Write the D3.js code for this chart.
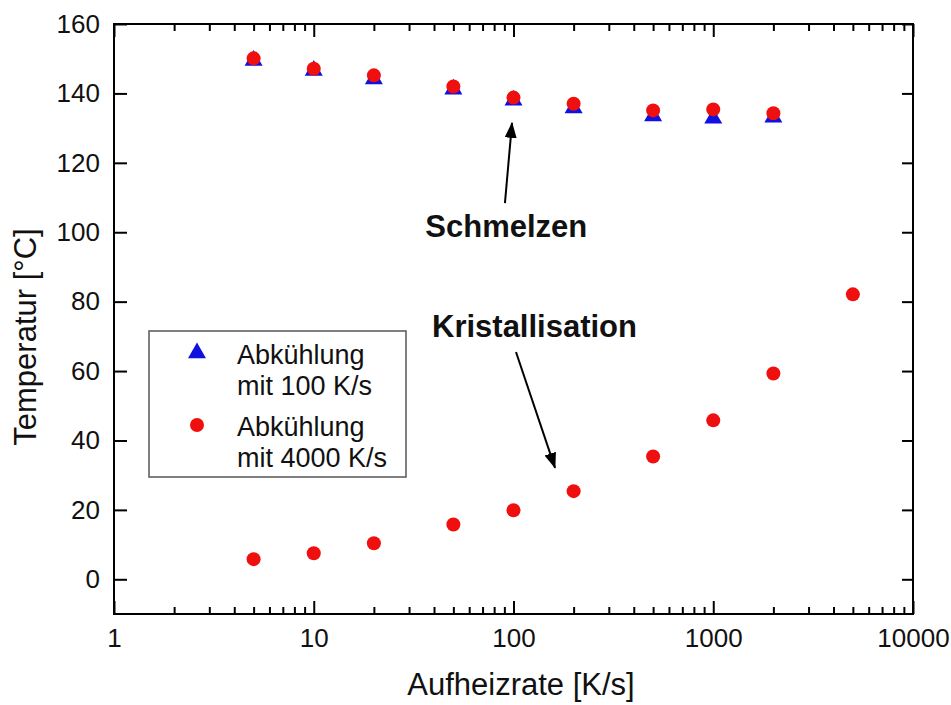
<!DOCTYPE html>
<html>
<head>
	<meta charset="utf-8">
	<title>Schmelzen / Kristallisation</title>
	<script src="https://d3js.org/d3.v7.min.js"></script>
	<style>
		html, body {
			margin: 0;
			background: #fff;
		}
		text {
			font-family: "Liberation Sans", Arial, sans-serif;
		}
	</style>
</head>
<body>
	<svg id="svg"></svg>
	<script>
		// heating rates [K/s]
		const ratesMelt = [5, 10, 20, 50, 100, 200, 500, 1000, 2000];
		const ratesCryst = [5, 10, 20, 50, 100, 200, 500, 1000, 2000, 5000];

		// melting temperature after cooling with 100 K/s (triangles)
		const melt100 = [149.5, 146.6, 144.1, 141.2, 138.0, 135.8, 133.5, 132.8, 133.1];
		// melting temperature after cooling with 4000 K/s (circles)
		const melt4000 = [150.1, 147.1, 145.2, 142.0, 138.8, 137.0, 135.1, 135.4, 134.3];
		// crystallisation temperature (circles)
		const cryst4000 = [5.8, 7.5, 10.4, 15.8, 19.9, 25.4, 35.4, 45.8, 59.3, 82.1];

		const xTicks = [1, 10, 100, 1000, 10000];
		const yTicks = [0, 20, 40, 60, 80, 100, 120, 140, 160];

		const legendLabels = [["Abkühlung", "mit 100 K/s"], ["Abkühlung", "mit 4000 K/s"]];

		// annotations in data coordinates: text position, arrow tail, arrow tip
		const notes = [
			{ label: "Schmelzen", tx: 92, ty: 98.7, x1: 90.6, y1: 108.4, x2: 98.3, y2: 131.5 },
			{ label: "Kristallisation", tx: 127.4, ty: 69.8, x1: 102.9, y1: 65.5, x2: 161.4, y2: 32.1 }
		];

		const W = 951, H = 705;
		const margins = { top: 24, left: 114, right: 38, bottom: 91 };
		const plotW = W - margins.left - margins.right;
		const plotH = H - margins.top - margins.bottom;

		const svg = d3.select("#svg")
			.attr("width", W)
			.attr("height", H);

		const x = d3.scaleLog()
			.domain([1, 10000])
			.range([0, plotW]);

		const y = d3.scaleLinear()
			.domain([-10, 160])
			.range([plotH, 0]);

		const g = svg.append("g")
			.attr("transform", `translate(${margins.left}, ${margins.top})`);

		const minorTicks = [];
		[1, 10, 100, 1000].forEach(d => {
			for (let k = 2; k <= 9; k++) minorTicks.push(d * k);
		});

		function styleAxis(sel) {
			sel.select(".domain").remove();
			sel.selectAll(".tick line").attr("stroke", "#000").attr("stroke-width", 2);
			sel.selectAll(".tick text")
				.attr("fill", "#111")
				.style("font-size", "26px");
		}

		// bottom
		g.append("g")
			.attr("transform", `translate(0, ${plotH})`)
			.call(d3.axisBottom(x).tickValues(xTicks).tickFormat(d3.format("d")).tickSize(-13).tickPadding(15))
			.call(styleAxis);
		g.append("g")
			.attr("transform", `translate(0, ${plotH})`)
			.call(d3.axisBottom(x).tickValues(minorTicks).tickFormat("").tickSize(-7))
			.call(styleAxis);
		// top
		g.append("g")
			.call(d3.axisTop(x).tickValues(xTicks).tickFormat("").tickSize(-13))
			.call(styleAxis);
		g.append("g")
			.call(d3.axisTop(x).tickValues(minorTicks).tickFormat("").tickSize(-7))
			.call(styleAxis);
		// left
		g.append("g")
			.call(d3.axisLeft(y).tickValues(yTicks).tickSize(-13).tickPadding(14))
			.call(styleAxis);
		// right
		g.append("g")
			.attr("transform", `translate(${plotW}, 0)`)
			.call(d3.axisRight(y).tickValues(yTicks).tickFormat("").tickSize(-11))
			.call(styleAxis);

		g.append("rect")
			.attr("width", plotW)
			.attr("height", plotH)
			.attr("fill", "none")
			.attr("stroke", "#000")
			.attr("stroke-width", 2);

		// axis titles
		svg.append("text")
			.attr("x", 521)
			.attr("y", 695)
			.attr("text-anchor", "middle")
			.style("font-size", "31px")
			.attr("fill", "#111")
			.text("Aufheizrate [K/s]");

		svg.append("text")
			.attr("transform", "translate(36, 337) rotate(-90)")
			.attr("text-anchor", "middle")
			.style("font-size", "31px")
			.attr("fill", "#111")
			.text("Temperatur [°C]");

		// data
		const tri = d3.symbol().type(d3.symbolTriangle).size(140);

		g.selectAll(".tri")
			.data(ratesMelt.map((r, i) => [r, melt100[i]]))
			.enter()
			.append("path")
			.attr("class", "tri")
			.attr("d", tri)
			.attr("transform", d => `translate(${x(d[0])}, ${y(d[1])})`)
			.attr("fill", "#1010e0");

		const circles = ratesMelt.map((r, i) => [r, melt4000[i]])
			.concat(ratesCryst.map((r, i) => [r, cryst4000[i]]));

		g.selectAll(".dot")
			.data(circles)
			.enter()
			.append("circle")
			.attr("class", "dot")
			.attr("cx", d => x(d[0]))
			.attr("cy", d => y(d[1]))
			.attr("r", 7)
			.attr("fill", "#f00f0f");

		// annotations
		svg.append("defs").append("marker")
			.attr("id", "arrow")
			.attr("markerUnits", "userSpaceOnUse")
			.attr("markerWidth", 16)
			.attr("markerHeight", 14)
			.attr("viewBox", "0 -7 16 14")
			.attr("refX", 15)
			.attr("refY", 0)
			.attr("orient", "auto")
			.append("path")
			.attr("d", "M0,-6L16,0L0,6Z")
			.attr("fill", "#000");

		g.selectAll(".arrow")
			.data(notes)
			.enter()
			.append("line")
			.attr("class", "arrow")
			.attr("x1", d => x(d.x1))
			.attr("y1", d => y(d.y1))
			.attr("x2", d => x(d.x2))
			.attr("y2", d => y(d.y2))
			.attr("stroke", "#000")
			.attr("stroke-width", 2)
			.attr("marker-end", "url(#arrow)");

		g.selectAll(".note")
			.data(notes)
			.enter()
			.append("text")
			.attr("class", "note")
			.attr("x", d => x(d.tx))
			.attr("y", d => y(d.ty))
			.attr("text-anchor", "middle")
			.style("font-size", "31px")
			.style("font-weight", "bold")
			.attr("fill", "#111")
			.text(d => d.label);

		// legend
		const legend = svg.append("g").attr("transform", "translate(149, 331)");
		legend.append("rect")
			.attr("width", 257)
			.attr("height", 146)
			.attr("fill", "#fff")
			.attr("stroke", "#555")
			.attr("stroke-width", 1.5);

		legendLabels.forEach((lines, i) => {
			const row = legend.append("g").attr("transform", `translate(0, ${i * 72})`);
			if (i === 0) {
				row.append("path")
					.attr("d", tri)
					.attr("transform", "translate(48, 22)")
					.attr("fill", "#1010e0");
			} else {
				row.append("circle")
					.attr("cx", 48)
					.attr("cy", 22)
					.attr("r", 7)
					.attr("fill", "#f00f0f");
			}
			lines.forEach((t, j) => {
				row.append("text")
					.attr("x", 88)
					.attr("y", 33 + j * 31)
					.style("font-size", "27px")
					.attr("fill", "#111")
					.text(t);
			});
		});
	</script>
</body>
</html>
